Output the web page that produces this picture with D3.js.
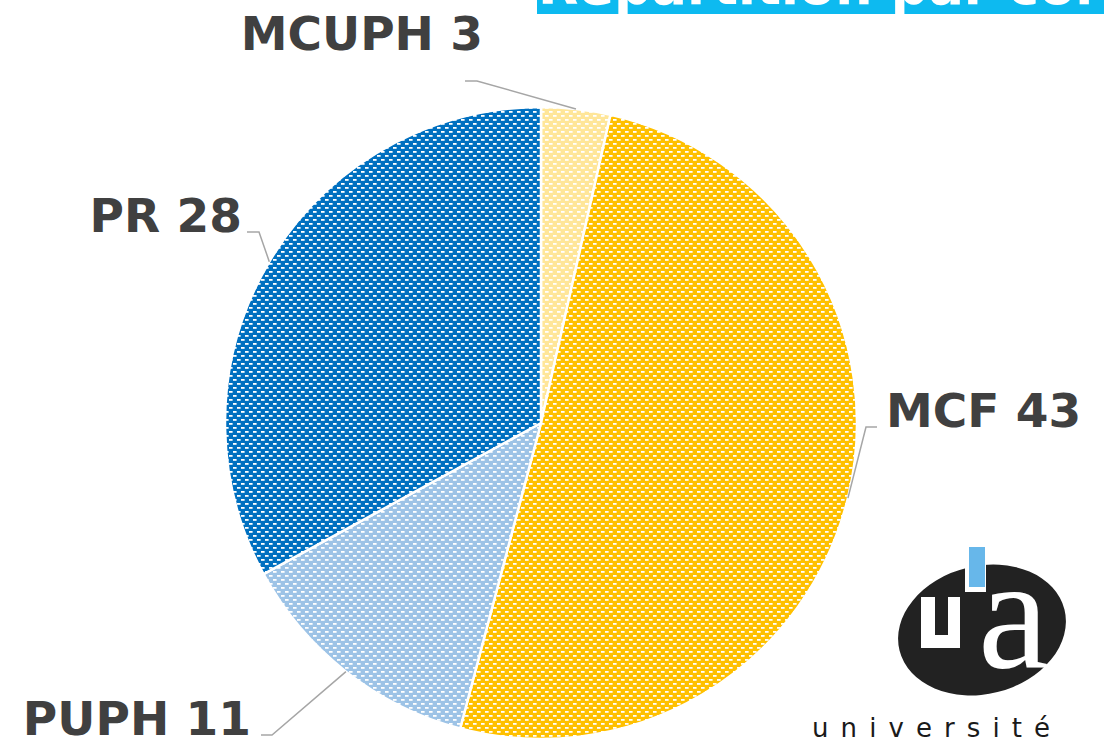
<!DOCTYPE html>
<html>
<head>
<meta charset="utf-8">
<script src="https://cdn.jsdelivr.net/npm/d3@7"></script>
<style>
  body { margin: 0; background: #fff; }
  svg { display: block; }
</style>
</head>
<body>
<script>
// data
var categories = ["MCUPH", "MCF", "PUPH", "PR"];
var values = [3, 43, 11, 28];
var colors = ["#FFE699", "#FFC000", "#9DC3E6", "#0070C0"];
var title = "Répartition par corps";

// layout
var width = 1104, height = 739;
var cx = 541, cy = 423, radius = 316;

// where excel put the labels (text anchor + elbow of the leader line)
var labelLayout = [
  { x: 483, y: 50,  anchor: "end",   line: [[465, 81], [477, 81]] },
  { x: 886, y: 427, anchor: "start", line: [[877, 427], [866, 427]] },
  { x: 251, y: 735, anchor: "end",   line: [[261, 735], [272, 735]] },
  { x: 242, y: 232, anchor: "end",   line: [[247, 232], [259, 232]] }
];

var svg = d3.select("body")
  .append("svg")
  .attr("width", width)
  .attr("height", height);

// hatched patterns, one per slice
var defs = svg.append("defs");
colors.forEach(function(c, i) {
  var p = defs.append("pattern")
    .attr("id", "pat" + i)
    .attr("patternUnits", "userSpaceOnUse")
    .attr("width", 8)
    .attr("height", 8);
  p.append("rect").attr("width", 8).attr("height", 8).attr("fill", c);
  p.append("rect").attr("x", 0).attr("y", 0).attr("width", 3.6).attr("height", 1.8).attr("fill", "#fff");
  p.append("rect").attr("x", 4).attr("y", 4).attr("width", 3.6).attr("height", 1.8).attr("fill", "#fff");
});

// title banner (cut off at the top of the picture)
svg.append("rect")
  .attr("x", 537).attr("y", 0)
  .attr("width", width - 537).attr("height", 14)
  .attr("fill", "#0DBAF0");
svg.append("text")
  .attr("x", 538).attr("y", 3.5)
  .attr("font-family", "DejaVu Sans")
  .attr("font-weight", "bold")
  .attr("font-size", "52.5px")
  .attr("fill", "#fff")
  .text(title);

// pie
var pie = d3.pie().sort(null).value(function(d) { return d; });
var arc = d3.arc().innerRadius(0).outerRadius(radius);
var arcs = pie(values);

var g = svg.append("g").attr("transform", "translate(" + cx + "," + cy + ")");

g.selectAll(".slice")
  .data(arcs)
  .enter().append("path")
  .attr("class", "slice")
  .attr("d", arc)
  .attr("fill", function(d, i) { return "url(#pat" + i + ")"; })
  .attr("stroke", "#fff")
  .attr("stroke-width", 2.5)
  .attr("stroke-linejoin", "round");

// leader lines
arcs.forEach(function(d, i) {
  var mid = (d.startAngle + d.endAngle) / 2;
  var end = [cx + radius * Math.sin(mid), cy - radius * Math.cos(mid)];
  var pts = labelLayout[i].line.concat([end]);
  svg.append("path")
    .attr("d", d3.line()(pts))
    .attr("fill", "none")
    .attr("stroke", "#A6A6A6")
    .attr("stroke-width", 1.5);
});

// labels
svg.selectAll(".lbl")
  .data(arcs)
  .enter().append("text")
  .attr("class", "lbl")
  .attr("x", function(d, i) { return labelLayout[i].x; })
  .attr("y", function(d, i) { return labelLayout[i].y; })
  .attr("text-anchor", function(d, i) { return labelLayout[i].anchor; })
  .attr("font-family", "DejaVu Sans")
  .attr("font-weight", "bold")
  .attr("font-size", "47px")
  .attr("fill", "#404040")
  .text(function(d, i) { return categories[i] + " " + values[i]; });

// university logo
var logo = svg.append("g");
logo.append("ellipse")
  .attr("cx", 982).attr("cy", 630)
  .attr("rx", 85).attr("ry", 64)
  .attr("transform", "rotate(-14,982,630)")
  .attr("fill", "#222");
logo.append("rect").attr("x", 965).attr("y", 558).attr("width", 21).attr("height", 34).attr("fill", "#fff");
logo.append("rect").attr("x", 969).attr("y", 547).attr("width", 16).attr("height", 40).attr("fill", "#67B7EA");
logo.append("path")
  .attr("d", "M921,597 H935 V635 H948 V597 H960 V648 H921 Z")
  .attr("fill", "#fff");
logo.append("text")
  .attr("x", 978).attr("y", 667)
  .attr("font-family", "Liberation Serif")
  .attr("font-size", "160px")
  .attr("fill", "#fff")
  .text("a");
logo.append("text")
  .attr("x", 812).attr("y", 737)
  .attr("font-family", "DejaVu Sans")
  .attr("font-size", "26px")
  .attr("textLength", 238)
  .attr("lengthAdjust", "spacing")
  .attr("fill", "#1a1a1a")
  .text("université");
</script>
</body>
</html>
